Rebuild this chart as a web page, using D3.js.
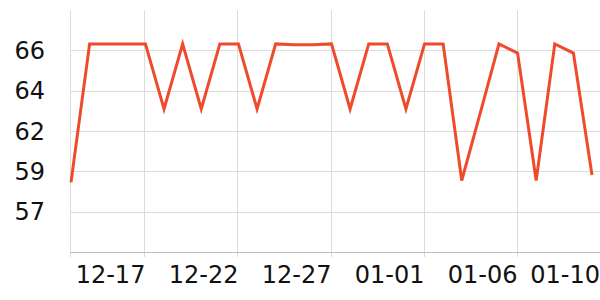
<!DOCTYPE html>
<html>
<head>
<meta charset="utf-8">
<script src="https://cdn.jsdelivr.net/npm/d3@7"></script>
<style>
  body { margin: 0; background: #fff; }
  text { font-family: "DejaVu Sans", sans-serif; }
</style>
</head>
<body>
<div id="chart"></div>
<script>
// daily values, 12-13 .. 01-10
var dates = ["2023-12-13","2023-12-14","2023-12-15","2023-12-16","2023-12-17","2023-12-18","2023-12-19",
  "2023-12-20","2023-12-21","2023-12-22","2023-12-23","2023-12-24","2023-12-25","2023-12-26","2023-12-27",
  "2023-12-28","2023-12-29","2023-12-30","2023-12-31","2024-01-01","2024-01-02","2024-01-03","2024-01-04",
  "2024-01-05","2024-01-06","2024-01-07","2024-01-08","2024-01-09","2024-01-10"];
var values = [58.8, 66.35, 66.35, 66.35, 66.35, 62.8, 66.35,
  62.8, 66.35, 66.35, 62.8, 66.35, 66.3, 66.3, 66.35,
  62.8, 66.35, 66.35, 62.8, 66.35, 66.35, 58.9, 62.6,
  66.35, 65.85, 58.9, 66.35, 65.85, 59.2];
var xTicks = ["2023-12-13","2023-12-17","2023-12-22","2023-12-27","2024-01-01","2024-01-06"];
var xLabels = ["", "12-17", "12-22", "12-27", "01-01", "01-06"];
var lastLabel = "01-10";
var yTicks = [57.2, 59.4, 61.6, 63.8, 66];

var W = 600, H = 300;
var m = {left: 70, right: 600, top: 10, bottom: 252};

var parse = d3.utcParse("%Y-%m-%d");
var data = dates.map(function(d, i) { return {date: parse(d), value: values[i]}; });

var x = d3.scaleUtc()
  .domain(d3.extent(data, function(d) { return d.date; }))
  .range([71, 592]);
var y = d3.scaleLinear()
  .domain([55, 68.2])
  .range([m.bottom, m.top]);

var svg = d3.select("#chart").append("svg")
  .attr("width", W)
  .attr("height", H);

// horizontal grid
svg.append("g")
  .selectAll("line")
  .data(yTicks)
  .enter().append("line")
  .attr("x1", m.left).attr("x2", m.right)
  .attr("y1", function(d) { return Math.round(y(d)) + 0.5; })
  .attr("y2", function(d) { return Math.round(y(d)) + 0.5; })
  .attr("stroke", "#dcdcdc");

// vertical grid
var tickDates = xTicks.map(parse);
svg.append("g")
  .selectAll("line")
  .data(tickDates)
  .enter().append("line")
  .attr("x1", function(d) { return Math.round(x(d)) - 0.5; })
  .attr("x2", function(d) { return Math.round(x(d)) - 0.5; })
  .attr("y1", m.top).attr("y2", m.bottom + 5)
  .attr("stroke", "#dcdcdc");

// x axis line
svg.append("line")
  .attr("x1", m.left).attr("x2", m.right)
  .attr("y1", m.bottom + 0.5).attr("y2", m.bottom + 0.5)
  .attr("stroke", "#bdbdbd");

// y labels
svg.append("g")
  .selectAll("text")
  .data(yTicks)
  .enter().append("text")
  .attr("x", 45)
  .attr("y", function(d) { return y(d); })
  .attr("dy", "0.36em")
  .attr("text-anchor", "end")
  .attr("font-size", 24)
  .attr("fill", "#111")
  .text(d3.format(".0f"));

// x labels, right-aligned to their tick
svg.append("g")
  .selectAll("text")
  .data(tickDates)
  .enter().append("text")
  .attr("x", function(d) { return x(d); })
  .attr("y", 283)
  .attr("text-anchor", "end")
  .attr("font-size", 24)
  .attr("fill", "#111")
  .text(function(d, i) { return xLabels[i]; });

svg.append("text")
  .attr("x", Math.min(x(parse(dates[dates.length - 1])) + 8, W))
  .attr("y", 283)
  .attr("text-anchor", "end")
  .attr("font-size", 24)
  .attr("fill", "#111")
  .text(lastLabel);

var line = d3.line()
  .x(function(d) { return x(d.date); })
  .y(function(d) { return y(d.value); });

svg.append("path")
  .datum(data)
  .attr("d", line)
  .attr("fill", "none")
  .attr("stroke", "#f04a2c")
  .attr("stroke-width", 3);
</script>
</body>
</html>
